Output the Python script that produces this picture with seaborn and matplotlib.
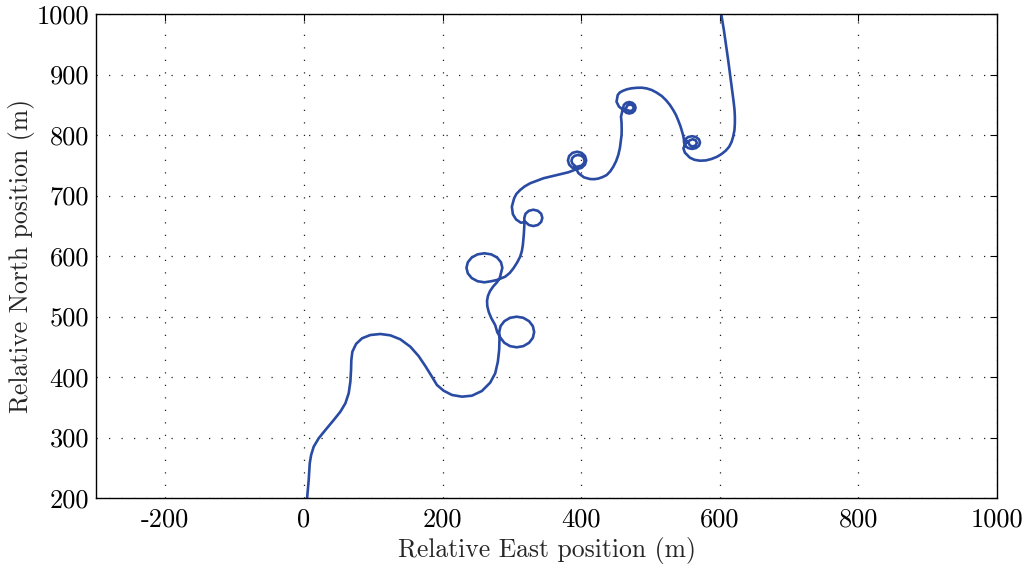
import numpy as np
import pandas as pd
import matplotlib
matplotlib.use("Agg")
import matplotlib.pyplot as plt
import seaborn as sns

# Trajectory (relative East, relative North) in metres
east = [
    # start and first S-bend
    4.6, 6.9, 8.4, 10.4, 14.1, 21.3, 31.0, 43.0, 52.6, 59.8, 64.6, 67.0, 68.0, 68.4, 69.9,
    75.2, 83.9, 95.8, 110.2, 124.6, 139.1, 153.5, 165.4, 175.1, 184.7, 191.9, 201.5, 213.6,
    228.0, 242.4, 256.8, 268.7, 276.0, 279.8, 281.7, 282.2,
    # loop near (307, 474)
    281.8, 283.7, 289.2, 297.4, 307.0, 316.6, 324.8, 330.3, 332.2, 330.3, 324.8, 316.6,
    307.0, 297.4, 289.2, 283.7,
    279.0, 275.9, 270.5, 266.8, 264.6, 264.2, 265.5, 268.5, 273.0, 278.5, 282.5,
    # loop near (260, 580)
    284.3, 286.3, 284.3, 278.7, 270.3, 260.4, 250.5, 242.1, 236.5, 234.5, 236.5, 242.1,
    250.5, 260.4, 270.3,
    279.0, 290.4, 297.0, 302.3, 307.5, 312.0, 314.5, 315.9, 317.3, 318.0,
    # loop near (331, 663)
    318.0, 319.7, 324.5, 331.0, 337.5, 342.3, 344.0, 342.3, 337.5, 331.0, 324.5, 319.7,
    313.0, 306.0, 301.5, 300.0, 303.3, 306.5, 312.0, 318.5, 326.4, 345.6, 364.9, 381.6,
    # double loop near (394, 758)
    394.1, 400.7, 405.5, 407.3, 405.5, 400.7, 394.1, 387.5, 382.7, 380.9, 382.7, 387.5,
    395.5, 400.3, 403.7, 405.0, 403.7, 400.3, 395.5, 390.8, 387.3, 386.0, 387.3, 390.8,
    396.0, 404.0, 412.9, 419.0, 424.8, 431.0, 436.9, 442.0, 446.4, 450.5, 453.6, 456.0,
    457.5, 458.3, 458.5, 458.3, 457.5, 459.0,
    # double loop near (470, 845)
    460.5, 461.7, 465.0, 469.5, 474.0, 477.3, 478.5, 477.3, 474.0, 469.5, 465.0, 461.7,
    465.0, 466.6, 470.5, 474.4, 476.0, 474.4, 470.5, 466.6,
    460.0, 454.5, 451.0, 452.8, 456.0, 460.8, 466.5, 472.9, 480.0, 487.3, 494.5, 501.8,
    509.0, 516.2, 522.5, 528.1, 532.7, 536.8, 540.3, 543.5, 547.0, 548.2,
    # double loop near (560, 787)
    548.5, 550.0, 554.3, 560.0, 565.8, 570.0, 571.5, 570.0, 565.8, 560.0, 554.3, 550.0,
    555.0, 556.8, 561.0, 565.2, 567.0, 565.2, 561.0, 556.8,
    551.0, 547.5, 549.7, 556.9, 563.5, 571.4, 580.0, 588.2, 596.0, 602.6, 608.5, 613.6,
    617.0, 619.3, 621.2, 621.8, 621.8, 621.3, 620.0, 618.4, 612.1, 605.9, 601.1]
north = [
    200.0, 229.8, 257.4, 271.1, 284.8, 298.7, 312.4, 328.9, 342.7, 356.5, 373.1, 392.2,
    411.6, 428.1, 441.8, 454.6, 464.0, 469.4, 471.1, 468.9, 462.3, 450.1, 434.7, 418.2,
    400.5, 386.8, 377.4, 370.3, 367.5, 369.1, 376.9, 390.6, 406.1, 425.3, 444.6, 464.0,
    474.4, 484.1, 492.3, 497.8, 499.7, 497.8, 492.3, 484.1, 474.4, 464.7, 456.5, 451.0,
    449.1, 451.0, 456.5, 464.7,
    474.0, 486.0, 497.0, 507.0, 517.0, 526.0, 534.0, 542.0, 549.5, 556.5, 563.5,
    571.3, 580.5, 589.7, 597.5, 602.7, 604.5, 602.7, 597.5, 589.7, 580.5, 571.3, 563.5,
    558.3, 556.5, 558.3,
    560.5, 565.8, 572.0, 579.7, 589.0, 598.9, 608.5, 618.2, 636.0, 650.0,
    663.0, 669.8, 674.7, 676.5, 674.7, 669.8, 663.0, 656.3, 651.3, 649.5, 651.3, 656.3,
    655.0, 660.5, 669.0, 681.5, 695.4, 702.5, 709.1, 715.0, 720.2, 728.5, 733.9, 738.4,
    743.8, 745.7, 751.0, 758.1, 765.3, 770.5, 772.4, 770.5, 765.3, 758.1, 751.0, 745.7,
    748.0, 749.3, 752.8, 757.5, 762.3, 765.7, 767.0, 765.7, 762.3, 757.5, 752.8, 749.3,
    737.0, 730.0, 727.2, 727.0, 728.0, 730.5, 733.9, 740.0, 747.6, 757.0, 767.0, 779.0,
    791.8, 800.0, 808.3, 820.0, 830.3, 838.0,
    845.0, 849.8, 853.2, 854.5, 853.2, 849.8, 845.0, 840.3, 836.8, 835.5, 836.8, 840.3,
    845.0, 848.9, 850.5, 848.9, 845.0, 841.1, 839.5, 841.1,
    842.0, 847.0, 855.0, 866.2, 870.5, 873.3, 875.7, 877.2, 878.0, 878.2, 877.0, 874.4,
    870.0, 864.5, 857.5, 849.6, 841.5, 833.1, 823.5, 813.8, 800.0, 793.0,
    787.5, 782.3, 778.4, 777.0, 778.4, 782.3, 787.5, 792.8, 796.6, 798.0, 796.6, 792.8,
    787.0, 782.8, 781.0, 782.8, 787.0, 791.2, 793.0, 791.2,
    786.0, 778.0, 770.8, 762.5, 759.0, 757.5, 758.0, 760.4, 764.0, 768.6, 774.0, 780.7,
    788.5, 797.2, 808.0, 819.4, 830.0, 841.4, 855.0, 869.0, 924.0, 973.6, 1006.6]

x_ticks = [-200, 0, 200, 400, 600, 800, 1000]
y_ticks = [200, 300, 400, 500, 600, 700, 800, 900, 1000]

df = pd.DataFrame({"east": east, "north": north, "order": np.arange(len(east))})

sns.set_style("white")
plt.rcParams["font.family"] = ["cmr10", "DejaVu Serif"]
plt.rcParams["mathtext.fontset"] = "cm"
plt.rcParams["axes.unicode_minus"] = False

fig = plt.figure(figsize=(10.29, 5.71), dpi=100)
ax = fig.add_axes([96 / 1029, 73 / 571, 901 / 1029, 484 / 571])

sns.lineplot(data=df, x="east", y="north", sort=False, estimator=None,
             color="#2a4ba3", linewidth=1.9, ax=ax)

ax.set_xlim(-300, 1000)
ax.set_ylim(200, 1000)
ax.set_xticks(x_ticks)
ax.set_xticklabels([str(v) for v in x_ticks])
ax.set_yticks(y_ticks)
ax.set_yticklabels([str(v) for v in y_ticks])

ax.grid(True, which="major", linestyle=(0, (1, 9)), color="#222222", linewidth=0.9)
ax.tick_params(axis="both", which="major", direction="in", length=5, width=0.8,
               top=True, right=True, labelsize=19, colors="black")
ax.tick_params(axis="x", pad=7)
ax.tick_params(axis="y", pad=5)
for s in ax.spines.values():
    s.set_color("black")
    s.set_linewidth(1.0)

ax.set_xlabel("Relative East position (m)", fontsize=18.5, labelpad=4)
ax.set_ylabel("Relative North position (m)", fontsize=18.5, labelpad=1)

fig.savefig("out.png", dpi=100)
